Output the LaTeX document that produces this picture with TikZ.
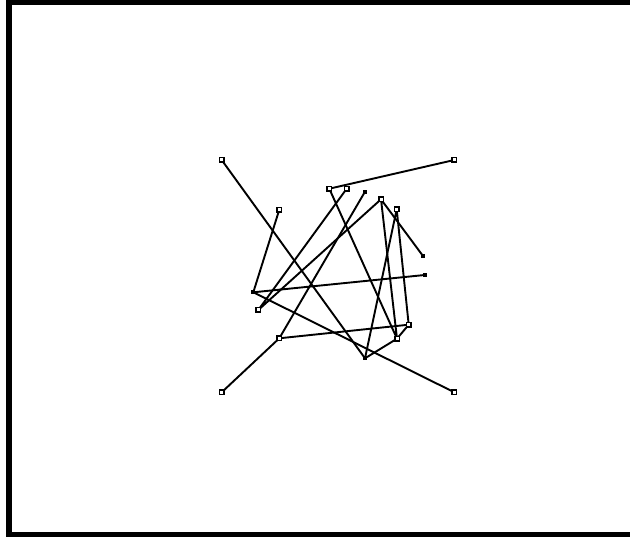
\documentclass[tikz,border=0pt]{standalone}
\usepackage{tikz}

\tikzset{
  edge/.style={line width=1.9pt,line join=round},
  mk/.style={draw,rectangle,line width=1.4pt,fill=white,inner sep=0pt,minimum size=4.4pt},
  dot/.style={fill,rectangle,inner sep=0pt,minimum size=3.8pt}
}

\begin{document}
\begin{tikzpicture}[x=1pt,y=-1pt]
\useasboundingbox (0,0) rectangle (630,537);
\draw[line width=6pt] (9,2) rectangle (640,535);

\coordinate (P1) at (221.7,160);
\coordinate (P2) at (454.3,160);
\coordinate (P3) at (221.7,392.3);
\coordinate (P4) at (454.3,392.3);
\coordinate (P5) at (279.3,209.7);
\coordinate (P6) at (329.3,188.7);
\coordinate (P7) at (346.7,188.7);
\coordinate (P8) at (365,191.7);
\coordinate (P9) at (381,199.3);
\coordinate (P10) at (396.7,209.3);
\coordinate (P11) at (423,256);
\coordinate (P12) at (253.3,292.3);
\coordinate (P13) at (258.3,310);
\coordinate (P14) at (279.3,338.3);
\coordinate (P15) at (424.7,275);
\coordinate (P16) at (408.7,324.7);
\coordinate (P17) at (397,338.7);
\coordinate (P18) at (365,358.3);

\draw[edge] (P1)--(P18)--(P17)--(P16);
\draw[edge] (P6)--(P2);
\draw[edge] (P3)--(P14)--(P8);
\draw[edge] (P14)--(P16)--(P10)--(P18);
\draw[edge] (P5)--(P12)--(P4);
\draw[edge] (P12)--(P15);
\draw[edge] (P7)--(P13)--(P9);
\draw[edge] (P6)--(P17)--(P9)--(P11);

\foreach \P in {P1,P2,P3,P4,P5,P6,P7,P9,P10,P13,P14,P16,P17}
  \node[mk] at (\P) {};
\foreach \P in {P8,P11,P12,P15,P18}
  \node[dot] at (\P) {};
\end{tikzpicture}
\end{document}
